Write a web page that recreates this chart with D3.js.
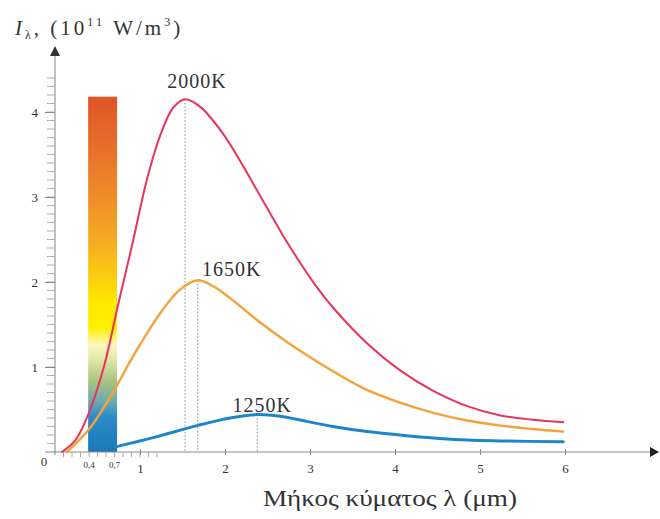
<!DOCTYPE html>
<html><head><meta charset="utf-8">
<script src="https://cdn.jsdelivr.net/npm/d3@7/dist/d3.min.js"></script>
<style>body{margin:0;background:#fff} svg{display:block}</style>
</head><body>
<svg id="c" width="660" height="519"></svg>
<script>
// ---- data ----
const xMajorTicks = [1, 2, 3, 4, 5, 6];
const xSmallLabels = [0.4, 0.7];
const yMajorTicks = [1, 2, 3, 4];
const visibleBand = [0.39, 0.73];   // μm
const visibleBandTop = 4.18;

const temps = ["2000K", "1650K", "1250K"];
const colors = ["#e8345c", "#f4a23a", "#1f85c9"];

const lambda2000 = [0.08,0.24,0.41,0.58,0.74,0.92,1.08,1.24,1.39,1.53,1.71,1.98,2.18,2.45,2.76,3.08,3.27,3.67,4.06,4.45,4.85,5.24,5.62,5.98];
const I2000      = [0,0.14,0.49,1.02,1.72,2.49,3.20,3.73,4.05,4.15,4.06,3.74,3.42,2.95,2.42,1.94,1.70,1.28,0.96,0.72,0.54,0.43,0.38,0.35];
const lambda1650 = [0.14,0.41,0.71,0.88,1.06,1.25,1.47,1.68,1.86,2.06,2.38,2.65,2.96,3.27,3.67,4.06,4.45,4.85,5.24,5.62,5.98];
const I1650      = [0,0.28,0.75,1.06,1.36,1.65,1.91,2.02,1.95,1.81,1.55,1.35,1.14,0.95,0.73,0.58,0.46,0.37,0.31,0.27,0.24];
const lambda1250 = [0.71,0.92,1.12,1.27,1.67,2.06,2.38,2.65,2.96,3.27,3.67,4.06,4.45,4.85,5.24,5.98];
const I1250      = [0.06,0.11,0.16,0.20,0.31,0.40,0.44,0.42,0.36,0.30,0.24,0.20,0.165,0.14,0.13,0.12];

const seriesX = [lambda2000, lambda1650, lambda1250];
const seriesY = [I2000, I1650, I1250];

// ---- drawing ----
const svg = d3.select("#c");
const x = d3.scaleLinear().domain([0, 7]).range([55, 650]);
const y = d3.scaleLinear().domain([0, 4.7]).range([452, 452 - 4.7 * 85]);
const serif = "'Liberation Serif','Times New Roman',serif";

// gradient for visible band
const defs = svg.append("defs");
const g = defs.append("linearGradient").attr("id", "spec")
  .attr("x1", 0).attr("y1", 0).attr("x2", 0).attr("y2", 1);
[[0, "#df5428"], [0.12, "#e66a2a"], [0.30, "#f09028"], [0.42, "#f6b020"],
 [0.52, "#fcd20c"], [0.58, "#ffe800"], [0.65, "#fff000"], [0.70, "#fff7c0"],
 [0.75, "#d8e2a0"], [0.80, "#a8c480"], [0.86, "#6aa8b0"], [0.90, "#2a8cc8"], [1, "#1a78b8"]]
 .forEach(([o, c]) => g.append("stop").attr("offset", o).attr("stop-color", c));

svg.append("rect")
  .attr("x", x(visibleBand[0])).attr("width", x(visibleBand[1]) - x(visibleBand[0]))
  .attr("y", y(visibleBandTop)).attr("height", y(0) - y(visibleBandTop))
  .attr("fill", "url(#spec)");

// axes lines
svg.append("line").attr("x1", 45).attr("x2", 652).attr("y1", y(0)).attr("y2", y(0))
  .attr("stroke", "#8a8a8a").attr("stroke-width", 1.2);
svg.append("line").attr("x1", x(0)).attr("x2", x(0)).attr("y1", y(0) + 3).attr("y2", 54)
  .attr("stroke", "#9a9a9a").attr("stroke-width", 1.2);
svg.append("path").attr("d", "M650,447 L659,452 L650,457 Z").attr("fill", "#222");
svg.append("path").attr("d", "M50,56 L55,46 L60,56 Z").attr("fill", "#333");

// y ticks
const yMinor = d3.range(1, 45).map(d => d / 10);
svg.append("g").selectAll("line").data(yMinor).join("line")
  .attr("x1", x(0) - 8).attr("x2", x(0)).attr("y1", d => y(d)).attr("y2", d => y(d))
  .attr("stroke", "#b0b0b0").attr("stroke-width", 1);
const yAxis = d3.axisLeft(y).tickValues(yMajorTicks).tickSize(10).tickFormat(d3.format("d"));
const ya = svg.append("g").attr("transform", `translate(${x(0)},0)`).call(yAxis);
ya.select(".domain").remove();
ya.selectAll("line").attr("stroke", "#888");
ya.selectAll("text").attr("x", -17).attr("font-family", serif).attr("font-size", 13)
  .attr("fill", "#333");

// x ticks
const xMinor = d3.range(1, 13).map(d => d / 10);
svg.append("g").selectAll("line").data(xMinor).join("line")
  .attr("x1", d => x(d)).attr("x2", d => x(d)).attr("y1", y(0)).attr("y2", y(0) + 5)
  .attr("stroke", "#aaa").attr("stroke-width", 1);
const xAxis = d3.axisBottom(x).tickValues(xMajorTicks).tickSize(3).tickFormat(d3.format("d"));
const xa = svg.append("g").attr("transform", `translate(0,${y(0)})`).call(xAxis);
xa.select(".domain").remove();
xa.selectAll("line").attr("y1", -3).attr("stroke", "#888");
xa.selectAll("text").attr("y", 12).attr("font-family", serif).attr("font-size", 13)
  .attr("fill", "#333");
svg.append("g").selectAll("text").data(xSmallLabels).join("text")
  .attr("x", d => x(d)).attr("y", y(0) + 16).attr("text-anchor", "middle")
  .attr("font-family", serif).attr("font-size", 9).attr("fill", "#333")
  .text(d => String(d).replace(".", ","));
svg.append("text").attr("x", 44).attr("y", y(0) + 14).attr("text-anchor", "middle")
  .attr("font-family", serif).attr("font-size", 13).attr("fill", "#333").text("0");

// peak dotted lines
const peaks = seriesX.map((xs, i) => {
  const k = d3.maxIndex(seriesY[i]);
  return [xs[k], seriesY[i][k]];
});
svg.append("g").selectAll("line").data(peaks).join("line")
  .attr("x1", d => x(d[0])).attr("x2", d => x(d[0]))
  .attr("y1", d => y(d[1])).attr("y2", y(0))
  .attr("stroke", "#888").attr("stroke-width", 1).attr("stroke-dasharray", "1.5,2");

// curves
const line = d3.line().x(d => x(d[0])).y(d => y(d[1])).curve(d3.curveCatmullRom.alpha(0.5));
const widths = [2, 2.4, 3];
seriesX.forEach((xs, i) => {
  svg.append("path").datum(xs.map((v, j) => [v, seriesY[i][j]]))
    .attr("d", line).attr("fill", "none").attr("stroke", colors[i])
    .attr("stroke-width", widths[i]).attr("stroke-linecap", "round");
});

// temperature labels (offset from peaks)
const labelOffsets = [[12, -11], [34, -4], [5, -3]];
svg.append("g").selectAll("text").data(temps).join("text")
  .attr("x", (d, i) => x(peaks[i][0]) + labelOffsets[i][0])
  .attr("y", (d, i) => y(peaks[i][1]) + labelOffsets[i][1])
  .attr("text-anchor", "middle").attr("font-family", serif).attr("font-size", 20)
  .attr("letter-spacing", 1).attr("fill", "#333").text(d => d);

// y axis title
const yt = svg.append("text").attr("x", 15).attr("y", 35).attr("font-family", serif)
  .attr("font-size", 21).attr("letter-spacing", 3).attr("fill", "#333");
yt.append("tspan").attr("font-style", "italic").text("I");
yt.append("tspan").attr("font-size", 12).attr("dy", 4).text("λ");
yt.append("tspan").attr("dy", -4).text(", (10");
yt.append("tspan").attr("font-size", 12).attr("dy", -9).text("11");
yt.append("tspan").attr("dy", 9).text(" W/m");
yt.append("tspan").attr("font-size", 12).attr("dy", -9).text("3");
yt.append("tspan").attr("dy", 9).text(")");

// x axis title
svg.append("text").attr("x", 390).attr("y", 506).attr("text-anchor", "middle")
  .attr("font-family", serif).attr("font-size", 23).attr("fill", "#333")
  .attr("textLength", 254).attr("lengthAdjust", "spacingAndGlyphs")
  .text("Μήκος κύματος λ (μm)");
</script>
</body></html>
